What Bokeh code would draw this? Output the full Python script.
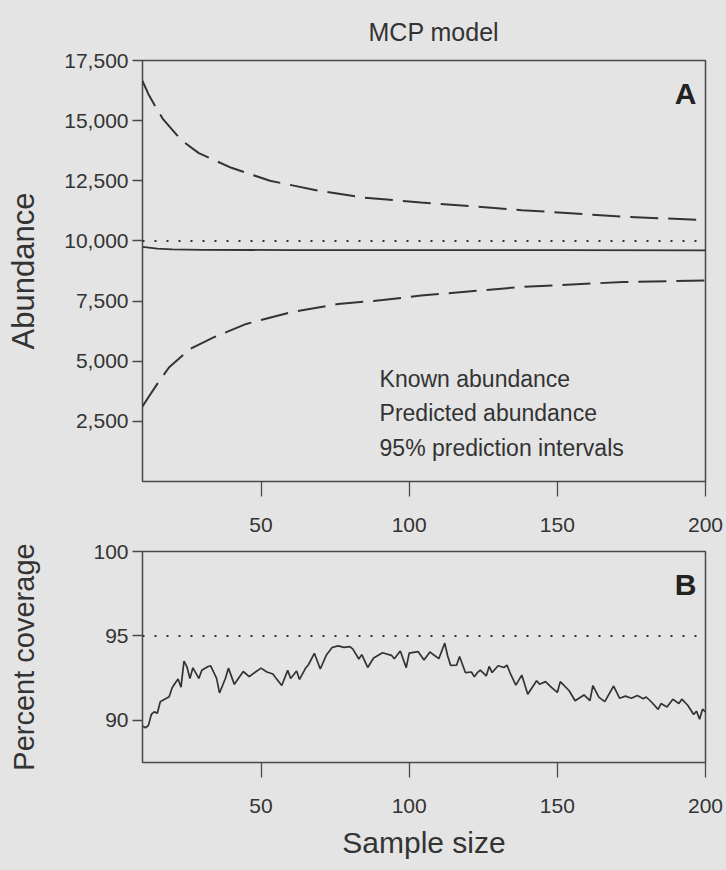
from bokeh.plotting import figure
from bokeh.layouts import column
from bokeh.models import Range1d, FixedTicker, NumeralTickFormatter, Label
from bokeh.embed import file_html
from bokeh.resources import INLINE

# ---------------- data ----------------
# Panel A: abundance estimates vs sample size
n_known = [10, 200]
known_abundance = [10000, 10000]

n_pred = [10, 15, 20, 30, 60, 100, 150, 200]
predicted_abundance = [9750, 9680, 9650, 9630, 9620, 9620, 9615, 9610]

n_upper = [10, 12, 15, 17, 23, 29, 40, 53, 69, 85, 104, 138, 172, 200]
upper_pi = [16650, 16100, 15450, 15050, 14200, 13650, 13040, 12500, 12100, 11800, 11600, 11280, 11010, 10860]

n_lower = [10, 12, 15, 19, 26, 34, 45, 60, 76, 91, 104, 138, 172, 200]
lower_pi = [3120, 3500, 4060, 4750, 5510, 5990, 6550, 7030, 7380, 7540, 7730, 8090, 8290, 8360]

legend_texts = ["Known abundance", "Predicted abundance", "95% prediction intervals"]

# Panel B: percent coverage of the 95% intervals
n_nominal = [10, 200]
nominal_coverage = [95, 95]

n_cov = [10, 11, 12, 13, 14, 15, 16, 17, 19, 20, 21, 22, 23, 24, 25, 26, 27, 29, 30, 32,
         33, 35, 36, 38, 39, 41, 42, 44, 46, 48, 50, 52, 54, 55, 57, 59, 60, 62, 63, 65,
         66, 68, 70, 72, 74, 76, 78, 80, 81, 83, 84, 86, 88, 90, 91, 94, 95, 97, 99, 100,
         103, 105, 107, 108, 110, 112, 113, 114, 116, 117, 119, 121, 122, 123, 124, 126, 127, 128, 130, 132,
         133, 134, 136, 138, 140, 142, 143, 144, 146, 148, 150, 151, 154, 156, 159, 161, 162, 164, 166, 169,
         171, 173, 175, 177, 179, 180, 182, 184, 185, 187, 189, 191, 192, 194, 196, 197, 198, 199, 200]
coverage = [89.66, 89.56, 89.70, 90.36, 90.50, 90.42, 91.10, 91.20, 91.40, 91.93, 92.19, 92.45, 91.96, 93.50, 93.17, 92.47, 93.11, 92.48, 92.96, 93.17,
            93.23, 92.48, 91.62, 92.49, 93.09, 92.13, 92.39, 92.89, 92.59, 92.85, 93.09, 92.86, 92.74, 92.51, 92.06, 92.96, 92.48, 92.92, 92.42, 93.08,
            93.29, 93.97, 93.04, 93.85, 94.31, 94.41, 94.32, 94.36, 94.22, 93.63, 93.89, 93.13, 93.69, 93.90, 94.00, 93.85, 93.65, 94.11, 93.12, 93.98,
            94.07, 93.57, 94.05, 93.91, 93.65, 94.57, 93.81, 93.25, 93.26, 93.78, 92.82, 92.86, 92.58, 92.82, 92.97, 92.63, 93.19, 92.83, 93.23, 93.13,
            93.27, 92.83, 92.08, 92.68, 91.54, 92.08, 92.34, 92.14, 92.29, 91.95, 91.65, 92.29, 91.75, 91.16, 91.50, 91.17, 92.06, 91.37, 91.11, 92.03,
            91.31, 91.43, 91.31, 91.47, 91.28, 91.38, 91.04, 90.65, 90.99, 90.79, 91.25, 90.99, 91.25, 90.89, 90.34, 90.54, 90.06, 90.66, 90.50]

x_ticks = [50, 100, 150, 200]
a_ticks = [2500, 5000, 7500, 10000, 12500, 15000, 17500]
b_ticks = [90, 95, 100]

# ---------------- style ----------------
FONT = "Liberation Sans"
BG = "#e4e4e4"
INK = "#333333"
FRAME = "#484848"
W = 726


def style(p, yticks):
    p.background_fill_color = BG
    p.border_fill_color = BG
    p.outline_line_color = FRAME
    p.outline_line_width = 1.5
    p.xgrid.visible = False
    p.ygrid.visible = False
    p.xaxis.ticker = FixedTicker(ticks=x_ticks)
    p.yaxis.ticker = FixedTicker(ticks=yticks)
    for ax in (p.xaxis[0], p.yaxis[0]):
        ax.axis_line_color = None
        ax.major_tick_line_color = FRAME
        ax.major_tick_line_width = 1.3
        ax.minor_tick_line_color = None
        ax.major_tick_in = 0
        ax.major_label_text_font = FONT
        ax.major_label_text_font_size = "21px"
        ax.major_label_text_color = INK
        ax.axis_label_text_font = FONT
        ax.axis_label_text_font_style = "normal"
        ax.axis_label_text_color = INK
    p.xaxis.axis_label_text_font_size = "30px"
    p.yaxis.axis_label_text_font_size = "31px"
    p.xaxis.major_tick_out = 15
    p.xaxis.major_label_standoff = 21
    p.yaxis.major_tick_out = 10
    p.yaxis.major_label_standoff = 4


# ---------------- panel A ----------------
pA = figure(width=W, height=540, output_backend="svg", toolbar_location=None,
            x_range=Range1d(10, 200), y_range=Range1d(0, 17500),
            min_border_left=142, min_border_right=21, min_border_top=60, min_border_bottom=59,
            title="MCP model")
style(pA, a_ticks)
pA.title.align = "left"
pA.title.text_font = FONT
pA.title.text_font_size = "25px"
pA.title.text_line_height = 1.0
pA.title.text_font_style = "normal"
pA.title.text_color = INK
pA.title.standoff = 30
pA.title.offset = 226
pA.yaxis.axis_label = "Abundance"
pA.yaxis.axis_label_standoff = 20
pA.yaxis.formatter = NumeralTickFormatter(format="0,0")

pA.line(n_known, known_abundance, line_color=INK, line_width=2, line_dash="2 10")
pA.line(n_pred, predicted_abundance, line_color=INK, line_width=1.8)
pA.line(n_upper, upper_pi, line_color=INK, line_width=2, line_dash="28 10")
pA.line(n_lower, lower_pi, line_color=INK, line_width=2, line_dash="28 10")

for i, t in enumerate(legend_texts):
    pA.add_layout(Label(x=90, y=4270 - i * 1430, text=t, text_font=FONT, text_font_size="23px",
                        text_color=INK, text_baseline="middle", text_align="left"))
pA.add_layout(Label(x=200, y=17500, x_offset=-9, y_offset=-16, text="A", text_font=FONT,
                    text_font_size="30px", text_font_style="bold", text_color="#222222",
                    text_align="right", text_baseline="top"))

# ---------------- panel B ----------------
pB = figure(width=W, height=330, output_backend="svg", toolbar_location=None,
            x_range=Range1d(10, 200), y_range=Range1d(87.5, 100),
            min_border_left=142, min_border_right=21, min_border_top=11, min_border_bottom=108)
style(pB, b_ticks)
pB.yaxis.axis_label = "Percent coverage"
pB.yaxis.axis_label_text_font_size = "29px"
pB.yaxis.axis_label_standoff = 50
pB.xaxis.axis_label = "Sample size"
pB.xaxis.axis_label_standoff = 10

pB.line(n_nominal, nominal_coverage, line_color=INK, line_width=2, line_dash="2 10")
pB.line(n_cov, coverage, line_color=INK, line_width=1.7)
pB.add_layout(Label(x=200, y=100, x_offset=-9, y_offset=-16, text="B", text_font=FONT,
                    text_font_size="30px", text_font_style="bold", text_color="#222222",
                    text_align="right", text_baseline="top"))

layout = column(pA, pB, spacing=0, background=BG)
open("out.html", "w").write(file_html(layout, INLINE))
